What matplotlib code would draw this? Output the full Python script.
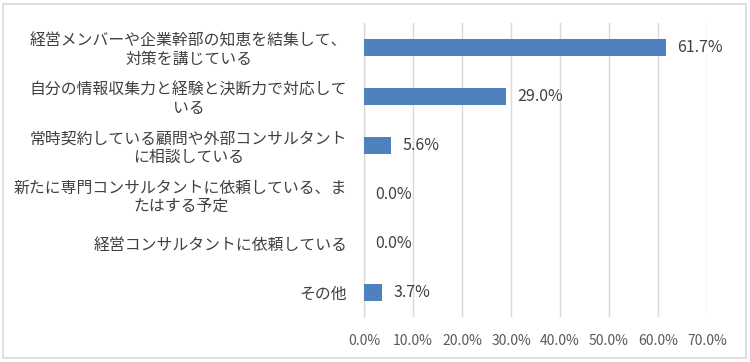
import matplotlib
matplotlib.use("Agg")
import matplotlib.pyplot as plt
from matplotlib.patches import Rectangle

plt.rcParams['font.family'] = ['Noto Sans CJK JP', 'DejaVu Sans']

categories = [
    "経営メンバーや企業幹部の知恵を結集して、\n対策を講じている",
    "自分の情報収集力と経験と決断力で対応して\nいる",
    "常時契約している顧問や外部コンサルタント\nに相談している",
    "新たに専門コンサルタントに依頼している、ま\nたはする予定",
    "経営コンサルタントに依頼している",
    "その他",
]
values = [61.7, 29.0, 5.6, 0.0, 0.0, 3.7]
xticks = [0, 10, 20, 30, 40, 50, 60, 70]
xtick_labels = ["0.0%", "10.0%", "20.0%", "30.0%", "40.0%", "50.0%", "60.0%", "70.0%"]

fig = plt.figure(figsize=(7.5, 3.62), dpi=100)
ax = fig.add_axes([364/750, 1-317/362, 343/750, 294/362])

y = list(range(len(categories)))
ax.barh(y, values, height=0.35, color="#4F81BD", edgecolor="none", linewidth=0, zorder=3)
ax.set_ylim(len(categories)-0.5, -0.5)
ax.set_xlim(0, 70)
ax.set_xticks(xticks)
ax.set_xticklabels(xtick_labels, fontsize=10, color="#595959")
ax.set_yticks(y)
ax.set_yticklabels(categories, fontsize=11.4, color="#404040", linespacing=1.1,
                   multialignment='center')
ax.tick_params(axis='both', length=0)
ax.tick_params(axis='x', pad=12)
ax.tick_params(axis='y', pad=12)
ax.grid(axis='x', color="#D9D9D9", linewidth=1.0, zorder=0)
for s in ['top', 'right', 'bottom']:
    ax.spines[s].set_visible(False)
ax.spines['left'].set_color("#D9D9D9")
ax.spines['left'].set_linewidth(1.0)

for yi, v in zip(y, values):
    ax.annotate(f"{v:.1f}%", xy=(v, yi), xytext=(8, 0), textcoords='offset points',
                va='center', ha='left', fontsize=11.5, color="#404040")

fig.patches.append(Rectangle((3/750, 4/362), 743/750, 354/362, transform=fig.transFigure,
                             fill=False, edgecolor="#D9D9D9", linewidth=1.2))
fig.savefig("out.png", dpi=100)
